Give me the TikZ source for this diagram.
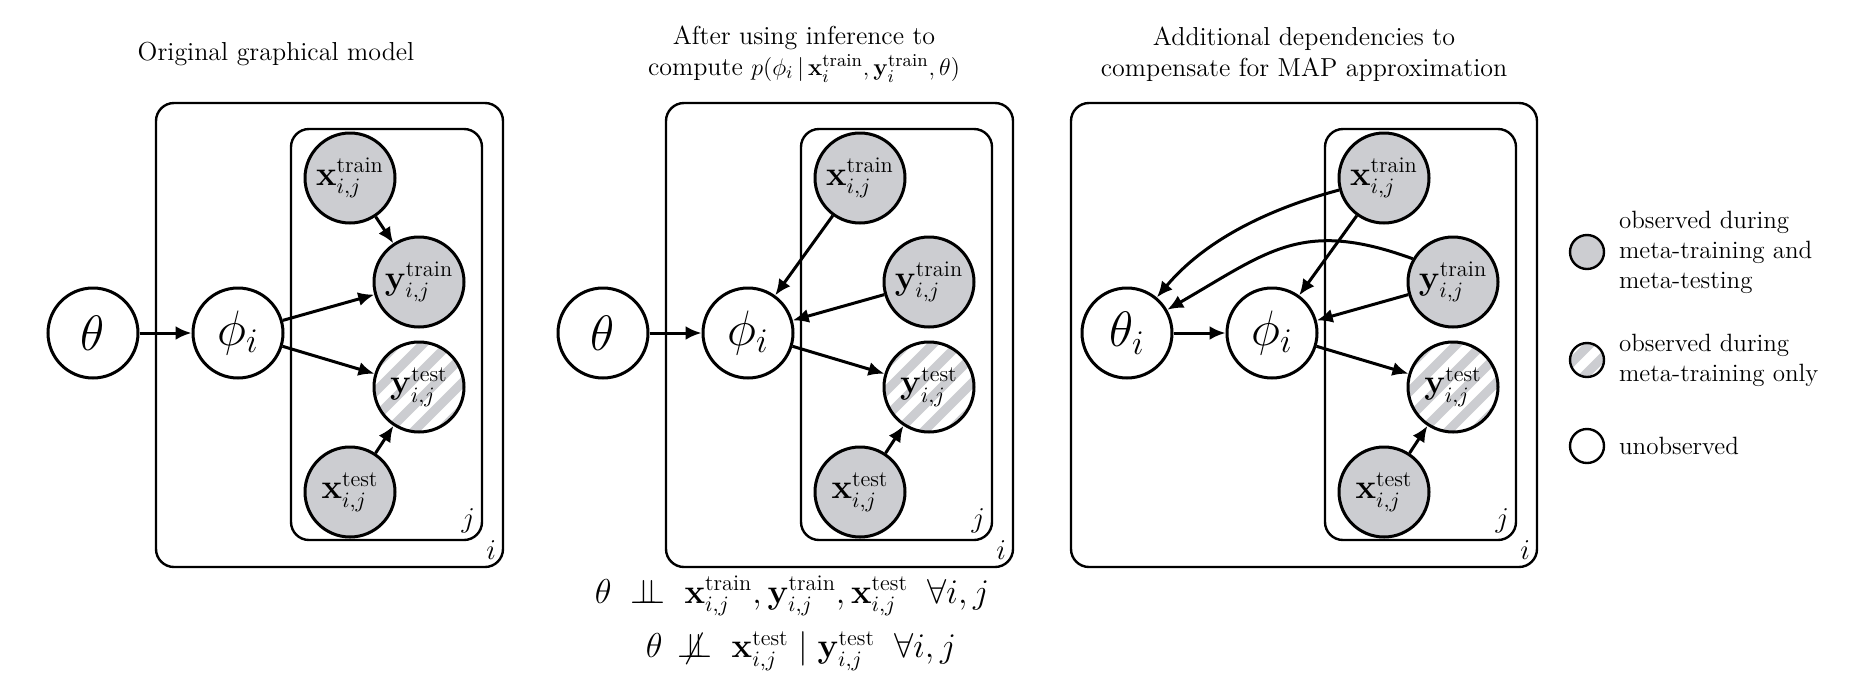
\documentclass[tikz,border=0pt]{standalone}
\usepackage{amsmath}
\usepackage{amssymb}
\usepackage{tikz}
\usetikzlibrary{arrows.meta,calc,positioning}
\definecolor{obsgray}{RGB}{204,205,209}
\newcommand{\indep}{\mathrel{\perp\mkern-10mu\perp}}
\newcommand{\nindep}{\mathrel{\not\mkern-2mu\perp\mkern-10mu\perp}}
\tikzset{
	var/.style={circle,draw,line width=1.5pt,minimum size=45pt,inner sep=0pt,font=\fontsize{16}{18}\selectfont},
	big var/.style={var,font=\fontsize{25}{27}\selectfont},
	obs/.style={var,fill=obsgray},
	half obs/.style={var,fill=obsgray,path picture={
		\foreach \k in {-4,...,4}
			\draw[white,line width=4.5pt] ($(path picture bounding box.center)+(\k*13pt-30pt,-30pt)$) -- +(60pt,60pt);}},
	plate/.style={draw,line width=1.2pt,rounded corners=9pt},
	edge/.style={-{Latex[length=8pt,width=7pt]},line width=1.5pt},
	title/.style={align=center,font=\fontsize{13}{15.5}\selectfont},
	legend/.style={circle,draw,line width=1.2pt,minimum size=17pt,inner sep=0pt},
	legend text/.style={anchor=west,align=left,font=\fontsize{12.5}{15}\selectfont}
}
\begin{document}
\begin{tikzpicture}[x=0.5pt,y=-0.5pt]
	\useasboundingbox (0,0) rectangle (1870,676);
	% panel A
	\node[title] (tA) at (276,54) {Original graphical model};
	\draw[plate] (156,103) rectangle (503,567);
	\draw[plate] (291,129) rectangle (482,540);
	\node[font=\fontsize{15}{17}\selectfont,anchor=south east] (jA) at (482,540) {$j$};
	\node[font=\fontsize{15}{17}\selectfont,anchor=south east] (iA) at (503,567) {$i$};
	\node[big var] (thA) at (93,333) {$\theta$};
	\node[big var] (phA) at (238,333) {$\phi_i$};
	\node[obs] (xtrA) at (350,178) {$\mathbf{x}_{i,j}^{\text{train}}$};
	\node[obs] (ytrA) at (419,282) {$\mathbf{y}_{i,j}^{\text{train}}$};
	\node[half obs] (yteA) at (419,387) {$\mathbf{y}_{i,j}^{\text{test}}$};
	\node[obs] (xteA) at (350,492) {$\mathbf{x}_{i,j}^{\text{test}}$};
	\draw[edge] (thA) -- (phA);
	\draw[edge] (phA) -- (ytrA);
	\draw[edge] (phA) -- (yteA);
	\draw[edge] (xtrA) -- (ytrA);
	\draw[edge] (xteA) -- (yteA);
	% panel B
	\node[title] (tB) at (804,54) {After using inference to\\compute $p(\phi_i\,|\,\mathbf{x}_i^{\text{train}},\mathbf{y}_i^{\text{train}},\theta)$};
	\draw[plate] (666,103) rectangle (1013,567);
	\draw[plate] (801,129) rectangle (992,540);
	\node[font=\fontsize{15}{17}\selectfont,anchor=south east] (jB) at (992,540) {$j$};
	\node[font=\fontsize{15}{17}\selectfont,anchor=south east] (iB) at (1013,567) {$i$};
	\node[big var] (thB) at (603,333) {$\theta$};
	\node[big var] (phB) at (748,333) {$\phi_i$};
	\node[obs] (xtrB) at (860,178) {$\mathbf{x}_{i,j}^{\text{train}}$};
	\node[obs] (ytrB) at (929,282) {$\mathbf{y}_{i,j}^{\text{train}}$};
	\node[half obs] (yteB) at (929,387) {$\mathbf{y}_{i,j}^{\text{test}}$};
	\node[obs] (xteB) at (860,492) {$\mathbf{x}_{i,j}^{\text{test}}$};
	\draw[edge] (thB) -- (phB);
	\draw[edge] (xtrB) -- (phB);
	\draw[edge] (ytrB) -- (phB);
	\draw[edge] (phB) -- (yteB);
	\draw[edge] (xteB) -- (yteB);
	\node[font=\fontsize{16}{18}\selectfont] (eq1) at (792,596) {$\theta\;\indep\;\mathbf{x}_{i,j}^{\text{train}},\mathbf{y}_{i,j}^{\text{train}},\mathbf{x}_{i,j}^{\text{test}}\;\;\forall i,j$};
	\node[font=\fontsize{16}{18}\selectfont] (eq2) at (801,651) {$\theta\;\nindep\;\mathbf{x}_{i,j}^{\text{test}}\mid\mathbf{y}_{i,j}^{\text{test}}\;\;\forall i,j$};
	% panel C
	\node[title] (tC) at (1304,54) {Additional dependencies to\\compensate for MAP approximation};
	\draw[plate] (1071,103) rectangle (1537,567);
	\draw[plate] (1325,129) rectangle (1516,540);
	\node[font=\fontsize{15}{17}\selectfont,anchor=south east] (jC) at (1516,540) {$j$};
	\node[font=\fontsize{15}{17}\selectfont,anchor=south east] (iC) at (1537,567) {$i$};
	\node[big var] (thC) at (1127,333) {$\theta_i$};
	\node[big var] (phC) at (1272,333) {$\phi_i$};
	\node[obs] (xtrC) at (1384,178) {$\mathbf{x}_{i,j}^{\text{train}}$};
	\node[obs] (ytrC) at (1453,282) {$\mathbf{y}_{i,j}^{\text{train}}$};
	\node[half obs] (yteC) at (1453,387) {$\mathbf{y}_{i,j}^{\text{test}}$};
	\node[obs] (xteC) at (1384,492) {$\mathbf{x}_{i,j}^{\text{test}}$};
	\draw[edge] (thC) -- (phC);
	\draw[edge] (xtrC) -- (phC);
	\draw[edge] (ytrC) -- (phC);
	\draw[edge] (phC) -- (yteC);
	\draw[edge] (xteC) -- (yteC);
	\draw[edge] (xtrC.195) to[out=195,in=50,looseness=0.9] (thC.50);
	\draw[edge] (ytrC.150) to[out=160,in=30,looseness=1.2] (thC.30);
	% legend
	\node[legend,fill=obsgray] (lgA) at (1587,252) {};
	\node[legend,half obs,minimum size=17pt,line width=1.2pt] (lgB) at (1587,360) {};
	\node[legend] (lgC) at (1587,446) {};
	\node[legend text] (ltA) at (1612,252) {observed during\\meta-training and\\meta-testing};
	\node[legend text] (ltB) at (1612,360) {observed during\\meta-training only};
	\node[legend text] (ltC) at (1612,446) {unobserved};
\end{tikzpicture}
\end{document}
